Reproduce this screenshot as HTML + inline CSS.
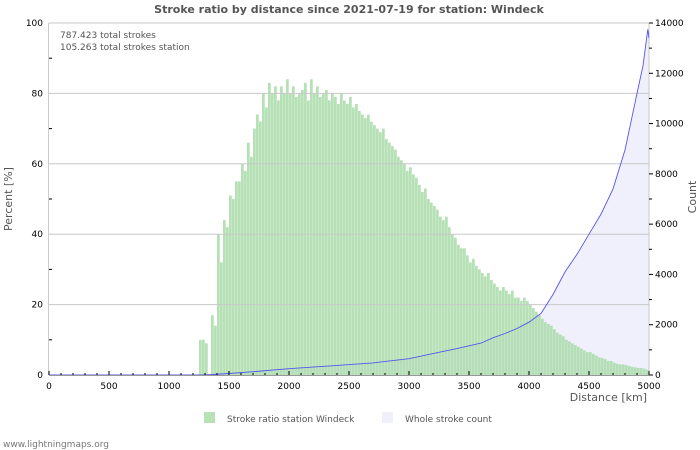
<!DOCTYPE html>
<html><head><meta charset="utf-8">
<style>
html,body{margin:0;padding:0;background:#fff;}
svg{display:block;font-family:"DejaVu Sans","Liberation Sans",sans-serif;}
</style></head>
<body>
<svg id="chart" width="700" height="450" viewBox="0 0 700 450" xmlns="http://www.w3.org/2000/svg">
  <text x="349" y="13" text-anchor="middle" font-size="11" font-weight="bold" fill="#555">Stroke ratio by distance since 2021-07-19 for station: Windeck</text>
  <g id="area-layer"></g>
  <g id="bar-layer"></g>
  <g id="grid-layer"></g>
  <g id="line-layer"></g>
  <g id="axis-layer"></g>
  <text x="60" y="38" font-size="9" fill="#555">787.423 total strokes</text>
  <text x="60" y="50" font-size="9" fill="#555">105.263 total strokes station</text>
  <text transform="translate(12,199) rotate(-90)" text-anchor="middle" font-size="11" fill="#555">Percent   [%]</text>
  <text transform="translate(696,197) rotate(-90)" text-anchor="middle" font-size="11" fill="#555">Count</text>
  <text x="647" y="401" text-anchor="end" font-size="11" fill="#555">Distance   [km]</text>
  <g>
    <rect x="204" y="412" width="11" height="11" fill="#b6e2b6"/>
    <text x="227" y="422" font-size="9" fill="#555">Stroke ratio station Windeck</text>
    <rect x="382" y="412" width="11" height="11" fill="#f0f0fc"/>
    <text x="405" y="422" font-size="9" fill="#555">Whole stroke count</text>
  </g>
  <text x="3" y="447" font-size="9" fill="#777">www.lightningmaps.org</text>
</svg>
<script>
const binStart = 1250;
const binWidth = 25;
const ratioValues = [10,10,9,0,17,14,40,32,44,42,51,50,55,55,60,58,66,62,70,74,72,80,76,83,80,82,78,82,80,84,80,82,79,80,81,83,78,84,80,82,79,80,81,78,80,79,77,80,78,77,79,76,77,75,74,73,74,72,71,70,69,70,67,66,65,64,62,61,60,58,59,57,56,54,52,53,50,49,48,47,45,44,45,42,40,39,37,36,36,34,32,33,31,30,29,28,29,27,26,25,24,25,24,23,24,22,22,21,22,21,20,19,18,17,16,15,14.5,14,13,12,11.5,11,10,9.5,9,8.5,8,7.5,7,6.5,6.5,6,5.5,5,4.8,4.5,4,4,3.5,3.2,3,3,2.8,2.5,2.3,2.2,2,2,1.8,1.5];
const countDist = [0,1300,1500,1700,2000,2400,2700,3000,3200,3400,3600,3700,3800,3900,4000,4100,4200,4300,4400,4500,4600,4700,4800,4900,4950,4990,5000];
const countValues = [0,0,60,130,250,380,480,650,850,1050,1270,1480,1650,1850,2100,2450,3200,4100,4800,5600,6400,7400,8950,11200,12300,13750,13400];
const xTicks = [0,500,1000,1500,2000,2500,3000,3500,4000,4500,5000];
const pctTicks = [0,20,40,60,80,100];
const countTicks = [0,2000,4000,6000,8000,10000,12000,14000];

const NS = "http://www.w3.org/2000/svg";
const X0 = 49, X1 = 649, Y0 = 375, Y1 = 23;
const xS = d => X0 + d / 5000 * (X1 - X0);
const pS = p => Y0 - p / 100 * (Y0 - Y1);
const cS = c => Y0 - c / 14000 * (Y0 - Y1);
function mk(tag, attrs, parent) {
  const el = document.createElementNS(NS, tag);
  for (const k in attrs) el.setAttribute(k, attrs[k]);
  parent.appendChild(el);
  return el;
}
const area = document.getElementById('area-layer');
const bars = document.getElementById('bar-layer');
const grid = document.getElementById('grid-layer');
const lineL = document.getElementById('line-layer');
const axis = document.getElementById('axis-layer');

let pts = countDist.map((d, i) => xS(d).toFixed(1) + ',' + cS(countValues[i]).toFixed(1));
const poly = mk('polygon', {points: xS(0) + ',' + Y0 + ' ' + pts.join(' ') + ' ' + X1 + ',' + Y0, fill: '#f0f0fc'}, area);



ratioValues.forEach((v, i) => {
  const d = binStart + i * binWidth;
  const x = xS(d), w = xS(d + binWidth) - x - 0.25;
  const r = mk('rect', {x: x.toFixed(2), y: pS(v).toFixed(2), width: w.toFixed(2), height: (Y0 - pS(v)).toFixed(2), fill: '#a9dca9', 'fill-opacity': '0.85'}, bars);
  
  
});

pctTicks.forEach(p => {
  if (p === 0) return;
  const g = mk('line', {x1: X0, x2: X1, y1: pS(p), y2: pS(p), stroke: '#c8c8c8', 'stroke-width': 1}, grid);
  
  
});
const fr = mk('line', {x1: X1, x2: X1, y1: Y1, y2: Y0, stroke: '#c8c8c8'}, grid);



const pl = mk('polyline', {points: pts.join(' '), fill: 'none', stroke: '#5555ee', 'stroke-width': 0.9}, lineL);



const ax = mk('line', {x1: X0, x2: X1, y1: Y0 + 0.5, y2: Y0 + 0.5, stroke: '#999'}, axis);


const ay = mk('line', {x1: X0 - 0.5, x2: X0 - 0.5, y1: Y1, y2: Y0, stroke: '#ccc'}, axis);


for (let d = 0; d <= 5000; d += 100) {
  const big = d % 500 === 0;
  const t = mk('line', {x1: xS(d), x2: xS(d), y1: Y0 - (big ? 4 : 2), y2: Y0, stroke: '#000'}, axis);
  
  
}
xTicks.forEach(d => {
  const t = mk('text', {x: xS(d), y: Y0 + 14, 'text-anchor': 'middle', 'font-size': 9, fill: '#000'}, axis);
  t.textContent = d;
  
  
});
pctTicks.forEach(p => {
  const t = mk('text', {x: 43, y: pS(p) + 3, 'text-anchor': 'end', 'font-size': 9, fill: '#000'}, axis);
  t.textContent = p;
  
  
});
for (let p = 10; p < 100; p += 20) {
  const t = mk('line', {x1: X0, x2: X0 + 3, y1: pS(p), y2: pS(p), stroke: '#000'}, axis);
  
  
}
for (let c = 0; c <= 14000; c += 1000) {
  const big = c % 2000 === 0;
  const t = mk('line', {x1: X1, x2: X1 + (big ? 4 : 3), y1: cS(c), y2: cS(c), stroke: '#000'}, axis);
  
  
}
countTicks.forEach(c => {
  const t = mk('text', {x: 655, y: cS(c) + 3, 'font-size': 9, fill: '#000'}, axis);
  t.textContent = c;
  
  
});
</script>
</body></html>
